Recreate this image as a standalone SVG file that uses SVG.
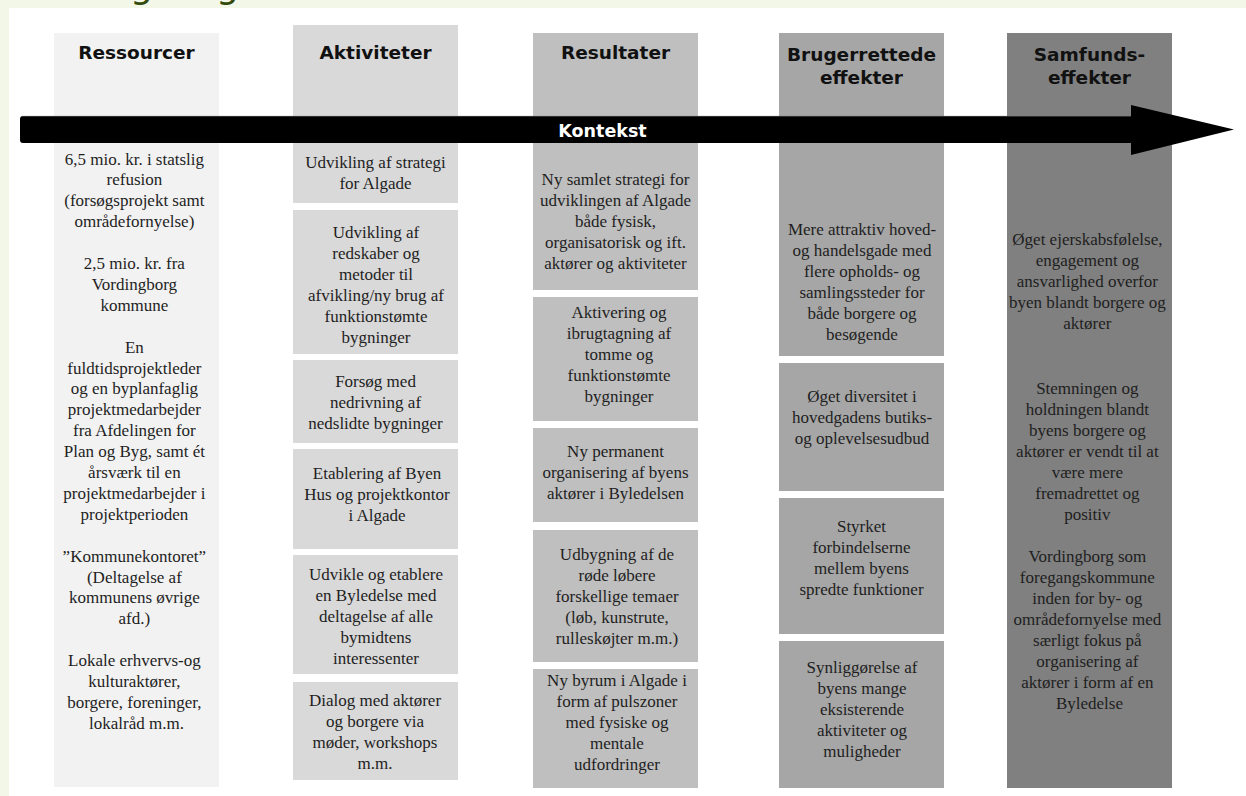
<svg xmlns="http://www.w3.org/2000/svg" width="1246" height="796" viewBox="0 0 1246 796">
<style>
.t{font-family:"Liberation Serif","Times New Roman",serif;font-size:17px;fill:#1e1e1e;text-anchor:middle}
.h{font-family:"DejaVu Sans","Liberation Sans",sans-serif;font-weight:bold;font-size:18.5px;fill:#111;text-anchor:middle}
.c1{fill:#f2f2f2}.c2{fill:#d9d9d9}.c3{fill:#bfbfbf}.c4{fill:#a6a6a6}.c5{fill:#808080}
</style>
<rect x="0" y="0" width="1246" height="796" fill="#f3f7e8"/>
<rect x="9" y="8" width="1237" height="788" fill="#ffffff"/>
<text font-family="DejaVu Sans, sans-serif" font-size="36" fill="#344a0c"><tspan x="130" y="-2">g</tspan><tspan x="216" y="-2">g</tspan></text>

<g id="col-ressourcer">
<rect class="c1" x="54" y="33" width="165" height="754"/>
<text class="h" x="136.5" y="59">Ressourcer</text>
<text class="t">
<tspan x="136.5" y="164.5">6,5 mio. kr. i statslig</tspan>
<tspan x="136.5" y="185.4">refusion</tspan>
<tspan x="136.5" y="206.3">(forsøgsprojekt samt</tspan>
<tspan x="136.5" y="227.2">områdefornyelse)</tspan>
<tspan x="136.5" y="269">2,5 mio. kr. fra</tspan>
<tspan x="136.5" y="289.9">Vordingborg</tspan>
<tspan x="136.5" y="310.8">kommune</tspan>
<tspan x="136.5" y="352.6">En</tspan>
<tspan x="136.5" y="373.5">fuldtidsprojektleder</tspan>
<tspan x="136.5" y="394.4">og en byplanfaglig</tspan>
<tspan x="136.5" y="415.3">projektmedarbejder</tspan>
<tspan x="136.5" y="436.2">fra Afdelingen for</tspan>
<tspan x="136.5" y="457.1">Plan og Byg, samt ét</tspan>
<tspan x="136.5" y="478">årsværk til en</tspan>
<tspan x="136.5" y="498.9">projektmedarbejder i</tspan>
<tspan x="136.5" y="519.8">projektperioden</tspan>
<tspan x="136.5" y="561.6">”Kommunekontoret”</tspan>
<tspan x="136.5" y="582.5">(Deltagelse af</tspan>
<tspan x="136.5" y="603.4">kommunens øvrige</tspan>
<tspan x="136.5" y="624.3">afd.)</tspan>
<tspan x="136.5" y="666.1">Lokale erhvervs-og</tspan>
<tspan x="136.5" y="687">kulturaktører,</tspan>
<tspan x="136.5" y="707.9">borgere, foreninger,</tspan>
<tspan x="136.5" y="728.8">lokalråd m.m.</tspan>
</text>
</g>

<g id="col-aktiviteter">
<g id="akt-1">
<rect class="c2" x="293" y="25" width="165" height="178"/>
<text class="h" x="375.5" y="59">Aktiviteter</text>
<text class="t"><tspan x="375.5" y="168">Udvikling af strategi</tspan><tspan x="375.5" y="189">for Algade</tspan></text>
</g>
<g id="akt-2">
<rect class="c2" x="293" y="210" width="165" height="144"/>
<text class="t"><tspan x="376" y="238">Udvikling af</tspan><tspan x="376" y="259">redskaber og</tspan><tspan x="376" y="280">metoder til</tspan><tspan x="376" y="301">afvikling/ny brug af</tspan><tspan x="376" y="322">funktionstømte</tspan><tspan x="376" y="343">bygninger</tspan></text>
</g>
<g id="akt-3">
<rect class="c2" x="293" y="360" width="165" height="83"/>
<text class="t"><tspan x="375.5" y="387">Forsøg med</tspan><tspan x="375.5" y="408">nedrivning af</tspan><tspan x="375.5" y="429">nedslidte bygninger</tspan></text>
</g>
<g id="akt-4">
<rect class="c2" x="293" y="449" width="165" height="100"/>
<text class="t"><tspan x="377" y="479">Etablering af Byen</tspan><tspan x="377" y="500">Hus og projektkontor</tspan><tspan x="377" y="521">i Algade</tspan></text>
</g>
<g id="akt-5">
<rect class="c2" x="293" y="555" width="165" height="119"/>
<text class="t"><tspan x="376" y="580">Udvikle og etablere</tspan><tspan x="376" y="601">en Byledelse med</tspan><tspan x="376" y="622">deltagelse af alle</tspan><tspan x="376" y="643">bymidtens</tspan><tspan x="376" y="664">interessenter</tspan></text>
</g>
<g id="akt-6">
<rect class="c2" x="293" y="682" width="165" height="98"/>
<text class="t"><tspan x="375" y="706">Dialog med aktører</tspan><tspan x="375" y="727">og borgere via</tspan><tspan x="375" y="748">møder, workshops</tspan><tspan x="375" y="769">m.m.</tspan></text>
</g>
</g>

<g id="col-resultater">
<g id="res-1">
<rect class="c3" x="533" y="33" width="165" height="257"/>
<text class="h" x="615.5" y="59">Resultater</text>
<text class="t"><tspan x="615.5" y="185">Ny samlet strategi for</tspan><tspan x="615.5" y="206">udviklingen af Algade</tspan><tspan x="615.5" y="227">både fysisk,</tspan><tspan x="615.5" y="248">organisatorisk og ift.</tspan><tspan x="615.5" y="269">aktører og aktiviteter</tspan></text>
</g>
<g id="res-2">
<rect class="c3" x="533" y="297" width="165" height="124"/>
<text class="t"><tspan x="619" y="318">Aktivering og</tspan><tspan x="619" y="339">ibrugtagning af</tspan><tspan x="619" y="360">tomme og</tspan><tspan x="619" y="381">funktionstømte</tspan><tspan x="619" y="402">bygninger</tspan></text>
</g>
<g id="res-3">
<rect class="c3" x="533" y="428" width="165" height="94"/>
<text class="t"><tspan x="615.5" y="457">Ny permanent</tspan><tspan x="615.5" y="478">organisering af byens</tspan><tspan x="615.5" y="499">aktører i Byledelsen</tspan></text>
</g>
<g id="res-4">
<rect class="c3" x="533" y="530" width="165" height="132"/>
<text class="t"><tspan x="617" y="560">Udbygning af de</tspan><tspan x="617" y="581">røde løbere</tspan><tspan x="617" y="602">forskellige temaer</tspan><tspan x="617" y="623">(løb, kunstrute,</tspan><tspan x="617" y="644">rulleskøjter m.m.)</tspan></text>
</g>
<g id="res-5">
<rect class="c3" x="533" y="669" width="165" height="119"/>
<text class="t"><tspan x="617" y="686">Ny byrum i Algade i</tspan><tspan x="617" y="707">form af pulszoner</tspan><tspan x="617" y="728">med fysiske og</tspan><tspan x="617" y="749">mentale</tspan><tspan x="617" y="770">udfordringer</tspan></text>
</g>
</g>

<g id="col-brugerrettede">
<g id="bru-1">
<rect class="c4" x="779" y="33" width="165" height="323"/>
<text class="h"><tspan x="861.5" y="61">Brugerrettede</tspan><tspan x="861.5" y="84">effekter</tspan></text>
<text class="t"><tspan x="862" y="235">Mere attraktiv hoved-</tspan><tspan x="862" y="256">og handelsgade med</tspan><tspan x="862" y="277">flere opholds- og</tspan><tspan x="862" y="298">samlingssteder for</tspan><tspan x="862" y="319">både borgere og</tspan><tspan x="862" y="340">besøgende</tspan></text>
</g>
<g id="bru-2">
<rect class="c4" x="779" y="363" width="165" height="128"/>
<text class="t"><tspan x="862" y="402">Øget diversitet i</tspan><tspan x="862" y="423">hovedgadens butiks-</tspan><tspan x="862" y="444">og oplevelsesudbud</tspan></text>
</g>
<g id="bru-3">
<rect class="c4" x="779" y="498" width="165" height="136"/>
<text class="t"><tspan x="861.5" y="532">Styrket</tspan><tspan x="861.5" y="553">forbindelserne</tspan><tspan x="861.5" y="574">mellem byens</tspan><tspan x="861.5" y="595">spredte funktioner</tspan></text>
</g>
<g id="bru-4">
<rect class="c4" x="779" y="641" width="165" height="147"/>
<text class="t"><tspan x="862" y="673">Synliggørelse af</tspan><tspan x="862" y="694">byens mange</tspan><tspan x="862" y="715">eksisterende</tspan><tspan x="862" y="736">aktiviteter og</tspan><tspan x="862" y="757">muligheder</tspan></text>
</g>
</g>

<g id="col-samfund">
<rect class="c5" x="1007" y="33" width="165" height="755"/>
<text class="h"><tspan x="1089.5" y="61">Samfunds-</tspan><tspan x="1089.5" y="84">effekter</tspan></text>
<text class="t">
<tspan x="1089.5" y="245">Øget ejerskabsfølelse,</tspan>
<tspan x="1089.5" y="266">engagement og</tspan>
<tspan x="1089.5" y="287">ansvarlighed overfor</tspan>
<tspan x="1089.5" y="308">byen blandt borgere og</tspan>
<tspan x="1089.5" y="329">aktører</tspan>
<tspan x="1089.5" y="394">Stemningen og</tspan>
<tspan x="1089.5" y="415">holdningen blandt</tspan>
<tspan x="1089.5" y="436">byens borgere og</tspan>
<tspan x="1089.5" y="457">aktører er vendt til at</tspan>
<tspan x="1089.5" y="478">være mere</tspan>
<tspan x="1089.5" y="499">fremadrettet og</tspan>
<tspan x="1089.5" y="520">positiv</tspan>
<tspan x="1089.5" y="562">Vordingborg som</tspan>
<tspan x="1089.5" y="583">foregangskommune</tspan>
<tspan x="1089.5" y="604">inden for by- og</tspan>
<tspan x="1089.5" y="625">områdefornyelse med</tspan>
<tspan x="1089.5" y="646">særligt fokus på</tspan>
<tspan x="1089.5" y="667">organisering af</tspan>
<tspan x="1089.5" y="688">aktører i form af en</tspan>
<tspan x="1089.5" y="709">Byledelse</tspan>
</text>
</g>

<g id="connectors">
<g id="kontekst-arrow">
<path d="M23,116 H1131 V105 L1234,129.5 L1131,155 V143 H23 Q20,143 20,140 V119 Q20,116 23,116 Z" fill="#000"/>
<line x1="22" y1="116.3" x2="1131" y2="116.3" stroke="#666" stroke-width="0.6"/>
<text x="602.5" y="137" font-family="DejaVu Sans, sans-serif" font-weight="bold" font-size="17.5" fill="#ffffff" text-anchor="middle">Kontekst</text>
</g>
</g>
</svg>
